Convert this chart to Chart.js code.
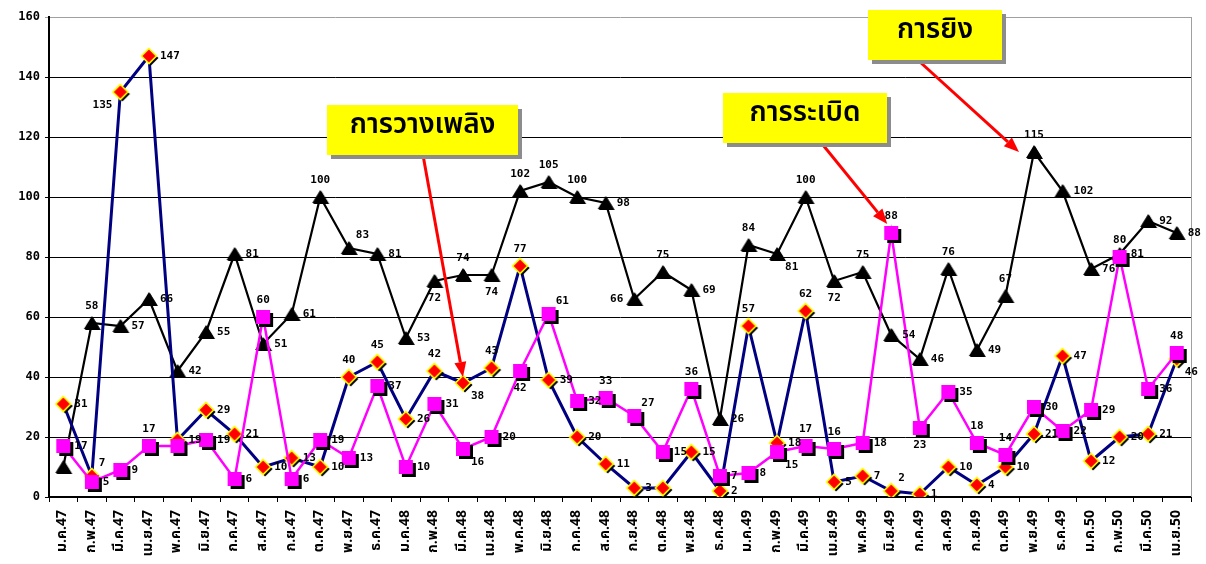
<!DOCTYPE html>
<html>
<head>
<meta charset="utf-8">
<script src="https://cdn.jsdelivr.net/npm/chart.js"></script>
<style>
  html, body { margin: 0; padding: 0; background: #fff; }
  #wrap { width: 1206px; height: 564px; }
</style>
</head>
<body>
<div id="wrap"><canvas id="chart" width="1206" height="564"></canvas></div>
<script>
// categories: Thai months, B.E. 2547 - 2550
const months = [
  'ม.ค.47','ก.พ.47','มี.ค.47','เม.ย.47','พ.ค.47','มิ.ย.47','ก.ค.47','ส.ค.47','ก.ย.47','ต.ค.47','พ.ย.47','ธ.ค.47',
  'ม.ค.48','ก.พ.48','มี.ค.48','เม.ย.48','พ.ค.48','มิ.ย.48','ก.ค.48','ส.ค.48','ก.ย.48','ต.ค.48','พ.ย.48','ธ.ค.48',
  'ม.ค.49','ก.พ.49','มี.ค.49','เม.ย.49','พ.ค.49','มิ.ย.49','ก.ค.49','ส.ค.49','ก.ย.49','ต.ค.49','พ.ย.49','ธ.ค.49',
  'ม.ค.50','ก.พ.50','มี.ค.50','เม.ย.50'
];

// การยิง (shooting)
const shooting = [10,58,57,66,42,55,81,51,61,100,83,81,53,72,74,74,102,105,100,98,
                  66,75,69,26,84,81,100,72,75,54,46,76,49,67,115,102,76,81,92,88];
// การวางเพลิง (arson)
const arson = [31,7,135,147,19,29,21,10,13,10,40,45,26,42,38,43,77,39,20,11,
               3,3,15,2,57,18,62,5,7,2,1,10,4,10,21,47,12,20,21,46];
// การระเบิด (bombing)
const bombing = [17,5,9,17,17,19,6,60,6,19,13,37,10,31,16,20,42,61,32,33,
                 27,15,36,7,8,15,17,16,18,88,23,35,18,14,30,22,29,80,36,48];

const yMin = 0, yMax = 160, yStep = 20;

// where each value label sits relative to its marker (r right, a above, b below, l left ...)
const shootingLabelPos = ['', 'a','r','r','r','r','r','r','r','a','ar','r','r','b','a','b','a','a','a','r',
                          'l','a','r','r','a','br','a','b','a','r','r','a','r','a','a','r','r','r','r','r'];
const arsonLabelPos = ['r','ar','bl','r','r','r','r','r','r','r','a','a','r','a','br','a','a','r','r','r',
                       'r','','r','r','a','r','a','r','r','ar','r','r','r','r','r','r','r','r','r','br'];
const bombingLabelPos = ['r','r','r','a','','r','r','a','r','r','r','r','r','r','br','r','b','ar','r','a',
                         'ar','r','a','r','r','br','a','a','r','a','b','r','a','a','r','r','r','a','r','a'];

const THAI = '"Noto Sans Thai", "Noto Sans Thai UI", Tahoma, "Noto Sans", sans-serif';
const NUM = '"DejaVu Sans Mono", monospace';

function markerCanvas(size, draw) {
  const c = document.createElement('canvas');
  c.width = size; c.height = size;
  draw(c.getContext('2d'));
  return c;
}

const diamondMarker = markerCanvas(22, g => {
  const d = (cx, cy, r) => {
    g.beginPath(); g.moveTo(cx, cy - r); g.lineTo(cx + r, cy); g.lineTo(cx, cy + r); g.lineTo(cx - r, cy); g.closePath();
  };
  d(13, 13, 7.5); g.fillStyle = '#000'; g.fill();
  d(11, 11, 7.5); g.fillStyle = '#ff0000'; g.fill();
  g.lineWidth = 1.6; g.strokeStyle = '#ffff00'; g.stroke();
});

const squareMarker = markerCanvas(26, g => {
  g.fillStyle = '#000'; g.fillRect(9, 9, 14, 14);
  g.fillStyle = '#ff00ff'; g.fillRect(6, 6, 14, 14);
});

const triangleMarker = markerCanvas(22, g => {
  const t = (dx, dy) => {
    g.beginPath(); g.moveTo(11 + dx, 4 + dy); g.lineTo(19 + dx, 17 + dy); g.lineTo(3 + dx, 17 + dy); g.closePath(); g.fill();
  };
  g.fillStyle = '#000';
  t(1, 1); t(0, 0);
});

const valueLabels = {
  id: 'valueLabels',
  afterDatasetsDraw(chart) {
    const ctx = chart.ctx;
    ctx.save();
    ctx.font = 'bold 11px ' + NUM;
    ctx.fillStyle = '#000';
    chart.data.datasets.forEach((ds, di) => {
      const meta = chart.getDatasetMeta(di);
      meta.data.forEach((pt, i) => {
        const pos = ds.labelPos[i];
        if (!pos) return;
        let x = pt.x, y = pt.y;
        ctx.textBaseline = 'middle';
        if (pos === 'r') { ctx.textAlign = 'left'; x += 11; }
        else if (pos === 'l') { ctx.textAlign = 'right'; x -= 11; }
        else if (pos === 'a') { ctx.textAlign = 'center'; y -= 17; }
        else if (pos === 'b') { ctx.textAlign = 'center'; y += 17; }
        else if (pos === 'ar') { ctx.textAlign = 'left'; x += 7; y -= 13; }
        else if (pos === 'br') { ctx.textAlign = 'left'; x += 8; y += 13; }
        else if (pos === 'bl') { ctx.textAlign = 'right'; x -= 8; y += 13; }
        ctx.fillText(String(ds.data[i]), x, y);
      });
    });
    ctx.restore();
  }
};

// yellow callout boxes with red arrows (ds = dataset index in the chart)
const callouts = [
  { text: 'การวางเพลิง', box: [327, 105, 191, 50], from: [423, 155], ds: 1, idx: 14, dx: 0, dy: -6 },
  { text: 'การระเบิด', box: [723, 93, 164, 50], from: [823, 145], ds: 0, idx: 29, dx: -4, dy: -9 },
  { text: 'การยิง', box: [868, 10, 134, 50], from: [920, 62], ds: 2, idx: 34, dx: -15, dy: 0 }
];

const calloutPlugin = {
  id: 'callouts',
  afterDraw(chart) {
    const ctx = chart.ctx;
    ctx.save();
    callouts.forEach(c => {
      const pt = chart.getDatasetMeta(c.ds).data[c.idx];
      const tx = pt.x + c.dx, ty = pt.y + c.dy;
      const [sx, sy] = c.from;
      const ang = Math.atan2(ty - sy, tx - sx);
      const hl = 15, hw = 6;
      const bx = tx - hl * Math.cos(ang), by = ty - hl * Math.sin(ang);
      ctx.strokeStyle = '#ff0000'; ctx.fillStyle = '#ff0000'; ctx.lineWidth = 3;
      ctx.beginPath(); ctx.moveTo(sx, sy); ctx.lineTo(bx, by); ctx.stroke();
      ctx.beginPath();
      ctx.moveTo(tx, ty);
      ctx.lineTo(bx + hw * Math.sin(ang), by - hw * Math.cos(ang));
      ctx.lineTo(bx - hw * Math.sin(ang), by + hw * Math.cos(ang));
      ctx.closePath(); ctx.fill();

      const [x, y, w, h] = c.box;
      ctx.fillStyle = '#8c8c8c'; ctx.fillRect(x + 4, y + 4, w, h);
      ctx.fillStyle = '#ffff00'; ctx.fillRect(x, y, w, h);
      ctx.fillStyle = '#000';
      ctx.font = '600 28px ' + THAI;
      ctx.textAlign = 'center'; ctx.textBaseline = 'middle';
      ctx.fillText(c.text, x + w / 2, y + h / 2 - 3);
    });
    ctx.restore();
  }
};

const plotFrame = {
  id: 'plotFrame',
  beforeDatasetsDraw(chart) {
    const { ctx, chartArea: a } = chart;
    ctx.save();
    ctx.strokeStyle = '#a0a0a0'; ctx.lineWidth = 1;
    ctx.beginPath(); ctx.moveTo(a.right + 0.5, a.top); ctx.lineTo(a.right + 0.5, a.bottom); ctx.stroke();
    ctx.restore();
  }
};

new Chart(document.getElementById('chart'), {
  type: 'line',
  data: {
    labels: months,
    datasets: [
      { label: 'การระเบิด', data: bombing, labelPos: bombingLabelPos, borderColor: '#ff00ff', borderWidth: 2.5,
        pointStyle: squareMarker, pointRadius: 8, tension: 0 },
      { label: 'การวางเพลิง', data: arson, labelPos: arsonLabelPos, borderColor: '#000080', borderWidth: 3,
        pointStyle: diamondMarker, pointRadius: 8, tension: 0 },
      { label: 'การยิง', data: shooting, labelPos: shootingLabelPos, borderColor: '#000', borderWidth: 2.2,
        pointStyle: triangleMarker, pointRadius: 8, tension: 0 }
    ]
  },
  options: {
    responsive: false,
    animation: false,
    devicePixelRatio: 1,
    layout: { padding: { top: 17, right: 15, left: 0, bottom: 0 } },
    plugins: { legend: { display: false }, tooltip: { enabled: false } },
    scales: {
      x: {
        offset: true,
        afterFit: s => { s.height = 67; },
        grid: { offset: true, drawOnChartArea: false, color: '#000', tickLength: 5 },
        border: { color: '#000', width: 2 },
        ticks: { autoSkip: false, maxRotation: 90, minRotation: 90, color: '#000', padding: 8,
                 font: { family: THAI, size: 14, weight: 'bold' } }
      },
      y: {
        min: yMin, max: yMax,
        afterFit: s => { s.width = 49; },
        grid: { color: c => (c.tick && c.tick.value === yMax) ? '#a0a0a0' : '#000', lineWidth: 1, tickLength: 4 },
        border: { color: '#000', width: 2 },
        ticks: { stepSize: yStep, color: '#000', padding: 5, font: { family: NUM, size: 12, weight: 'bold' } }
      }
    }
  },
  plugins: [plotFrame, valueLabels, calloutPlugin]
});
</script>
</body>
</html>
